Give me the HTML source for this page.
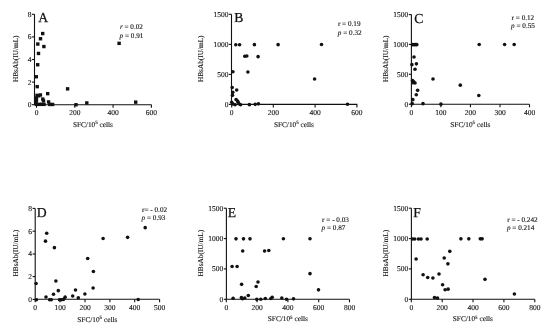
<!DOCTYPE html>
<html><head><meta charset="utf-8"><style>
html,body{margin:0;padding:0;background:#fff;}
svg{display:block;}
text{text-rendering:geometricPrecision;font-family:"Liberation Serif",serif;fill:#111;stroke:#111;stroke-width:0.12px;}
svg{filter:grayscale(1) blur(0.3px);}
.tk{font-size:7.5px;}
.st{font-size:7.2px;}
.ti{font-size:7.3px;}
.let{font-size:13.7px;stroke-width:0.25px;}
.ax{fill:none;stroke:#111;stroke-width:1.1;}
.m{fill:#111;}
</style></head><body>
<svg width="550" height="334" viewBox="0 0 550 334">
<rect x="0" y="0" width="550" height="334" fill="#fff"/>
<g><path d="M34.5 14.3V104.7H151.5" class="ax"/><path d="M31.9 14.3H34.5" class="ax"/><text x="31.4" y="16.78" class="tk" text-anchor="end">8</text><path d="M31.9 36.9H34.5" class="ax"/><text x="31.4" y="39.38" class="tk" text-anchor="end">6</text><path d="M31.9 59.5H34.5" class="ax"/><text x="31.4" y="61.98" class="tk" text-anchor="end">4</text><path d="M31.9 82.1H34.5" class="ax"/><text x="31.4" y="84.57" class="tk" text-anchor="end">2</text><path d="M31.9 104.7H34.5" class="ax"/><text x="31.4" y="107.17" class="tk" text-anchor="end">0</text><path d="M36.5 104.7V107.7" class="ax"/><text x="36.5" y="115.17" class="tk" text-anchor="middle">0</text><path d="M74.8 104.7V107.7" class="ax"/><text x="74.8" y="115.17" class="tk" text-anchor="middle">200</text><path d="M113.1 104.7V107.7" class="ax"/><text x="113.1" y="115.17" class="tk" text-anchor="middle">400</text><path d="M151.4 104.7V107.7" class="ax"/><text x="151.4" y="115.17" class="tk" text-anchor="middle">600</text><text x="38.3" y="22.1" class="let">A</text><text x="119.9" y="29.38" class="st"><tspan font-style="italic">r</tspan> = 0.02</text><text x="119.6" y="38.28" class="st"><tspan font-style="italic">p</tspan> = 0.91</text><text x="92.9" y="126.71" class="ti" text-anchor="middle">SFC/10<tspan dy="-2.4" font-size="5">5</tspan><tspan dy="2.4"> cells</tspan></text><text transform="translate(15.25 58.75) rotate(-90)" x="0" y="2.41" class="ti" text-anchor="middle">HBsAb(IU/mL)</text><rect class="m" x="41" y="31.85" width="3.4" height="3.4"/><rect class="m" x="38.8" y="37.05" width="3.4" height="3.4"/><rect class="m" x="36.1" y="42.35" width="3.4" height="3.4"/><rect class="m" x="42.2" y="44.85" width="3.4" height="3.4"/><rect class="m" x="36.8" y="51.75" width="3.4" height="3.4"/><rect class="m" x="36" y="63.05" width="3.4" height="3.4"/><rect class="m" x="34.6" y="75.05" width="3.4" height="3.4"/><rect class="m" x="35.5" y="84.95" width="3.4" height="3.4"/><rect class="m" x="46" y="91.95" width="3.4" height="3.4"/><rect class="m" x="65.9" y="87.15" width="3.4" height="3.4"/><rect class="m" x="117.4" y="41.65" width="3.4" height="3.4"/><rect class="m" x="35.3" y="93.65" width="3.4" height="3.4"/><rect class="m" x="38.7" y="93.25" width="3.4" height="3.4"/><rect class="m" x="34.6" y="96.45" width="3.4" height="3.4"/><rect class="m" x="41.1" y="97.35" width="3.4" height="3.4"/><rect class="m" x="34.4" y="99.95" width="3.4" height="3.4"/><rect class="m" x="37" y="94.15" width="3.4" height="3.4"/><rect class="m" x="34.8" y="98.15" width="3.4" height="3.4"/><rect class="m" x="41.8" y="99.15" width="3.4" height="3.4"/><rect class="m" x="34.8" y="102.65" width="3.4" height="3.4"/><rect class="m" x="37.3" y="102.65" width="3.4" height="3.4"/><rect class="m" x="39.8" y="102.65" width="3.4" height="3.4"/><rect class="m" x="42.3" y="102.65" width="3.4" height="3.4"/><rect class="m" x="46.9" y="100.25" width="3.4" height="3.4"/><rect class="m" x="48.1" y="102.75" width="3.4" height="3.4"/><rect class="m" x="50.9" y="102.75" width="3.4" height="3.4"/><rect class="m" x="74.3" y="103.05" width="3.4" height="3.4"/><rect class="m" x="85.1" y="101.25" width="3.4" height="3.4"/><rect class="m" x="134" y="100.45" width="3.4" height="3.4"/></g>
<g><path d="M231.5 14.3V104.4H357.3" class="ax"/><path d="M228.9 14.3H231.5" class="ax"/><text x="228.4" y="16.78" class="tk" text-anchor="end">1500</text><path d="M228.9 44.4H231.5" class="ax"/><text x="228.4" y="46.88" class="tk" text-anchor="end">1000</text><path d="M228.9 74.4H231.5" class="ax"/><text x="228.4" y="76.88" class="tk" text-anchor="end">500</text><path d="M228.9 104.4H231.5" class="ax"/><text x="228.4" y="106.88" class="tk" text-anchor="end">0</text><path d="M231.7 104.4V107.4" class="ax"/><text x="231.7" y="114.88" class="tk" text-anchor="middle">0</text><path d="M273.3 104.4V107.4" class="ax"/><text x="273.3" y="114.88" class="tk" text-anchor="middle">200</text><path d="M315.1 104.4V107.4" class="ax"/><text x="315.1" y="114.88" class="tk" text-anchor="middle">400</text><path d="M356.9 104.4V107.4" class="ax"/><text x="356.9" y="114.88" class="tk" text-anchor="middle">600</text><text x="234.2" y="21.7" class="let">B</text><text x="337.9" y="26.38" class="st">r = 0.19</text><text x="337.8" y="34.88" class="st"><tspan font-style="italic">p</tspan> = 0.32</text><text x="293.9" y="126.71" class="ti" text-anchor="middle">SFC/10<tspan dy="-2.4" font-size="5">5</tspan><tspan dy="2.4"> cells</tspan></text><text transform="translate(200.4 58.75) rotate(-90)" x="0" y="2.41" class="ti" text-anchor="middle">HBsAb(IU/mL)</text><circle class="m" cx="235.8" cy="44.75" r="1.8"/><circle class="m" cx="239.6" cy="44.75" r="1.8"/><circle class="m" cx="254.4" cy="44.65" r="1.8"/><circle class="m" cx="278.1" cy="44.65" r="1.8"/><circle class="m" cx="321.5" cy="44.55" r="1.8"/><circle class="m" cx="244.8" cy="56.25" r="1.8"/><circle class="m" cx="246.8" cy="56.05" r="1.8"/><circle class="m" cx="258.1" cy="56.65" r="1.8"/><circle class="m" cx="232.9" cy="71.75" r="1.8"/><circle class="m" cx="247.9" cy="71.95" r="1.8"/><circle class="m" cx="314.6" cy="78.95" r="1.8"/><circle class="m" cx="347.5" cy="104.25" r="1.8"/><circle class="m" cx="232.2" cy="87.45" r="1.8"/><circle class="m" cx="236.7" cy="89.95" r="1.8"/><circle class="m" cx="232.8" cy="92.35" r="1.8"/><circle class="m" cx="232.5" cy="95.35" r="1.8"/><circle class="m" cx="236.1" cy="99.55" r="1.8"/><circle class="m" cx="237.5" cy="100.95" r="1.8"/><circle class="m" cx="238.2" cy="102.35" r="1.8"/><circle class="m" cx="231.7" cy="102.35" r="1.8"/><circle class="m" cx="233" cy="103.95" r="1.8"/><circle class="m" cx="235.1" cy="104.75" r="1.8"/><circle class="m" cx="239.3" cy="103.95" r="1.8"/><circle class="m" cx="240.6" cy="104.75" r="1.8"/><circle class="m" cx="249.4" cy="104.65" r="1.8"/><circle class="m" cx="255.2" cy="104.35" r="1.8"/><circle class="m" cx="258.4" cy="103.85" r="1.8"/></g>
<g><path d="M411.4 14.6V104.3H529.5" class="ax"/><path d="M408.8 14.6H411.4" class="ax"/><text x="408.3" y="17.07" class="tk" text-anchor="end">1500</text><path d="M408.8 44.4H411.4" class="ax"/><text x="408.3" y="46.88" class="tk" text-anchor="end">1000</text><path d="M408.8 74.3H411.4" class="ax"/><text x="408.3" y="76.77" class="tk" text-anchor="end">500</text><path d="M408.8 104.2H411.4" class="ax"/><text x="408.3" y="106.67" class="tk" text-anchor="end">0</text><path d="M411.4 104.3V107.3" class="ax"/><text x="411.4" y="114.77" class="tk" text-anchor="middle">0</text><path d="M440.9 104.3V107.3" class="ax"/><text x="440.9" y="114.77" class="tk" text-anchor="middle">100</text><path d="M470.45 104.3V107.3" class="ax"/><text x="470.45" y="114.77" class="tk" text-anchor="middle">200</text><path d="M500 104.3V107.3" class="ax"/><text x="500" y="114.77" class="tk" text-anchor="middle">300</text><path d="M529.5 104.3V107.3" class="ax"/><text x="529.5" y="114.77" class="tk" text-anchor="middle">400</text><text x="414.2" y="22.6" class="let">C</text><text x="511.6" y="19.98" class="st">r = 0.12</text><text x="511.1" y="28.08" class="st"><tspan font-style="italic">p</tspan> = 0.55</text><text x="470.3" y="126.71" class="ti" text-anchor="middle">SFC/10<tspan dy="-2.4" font-size="5">5</tspan><tspan dy="2.4"> cells</tspan></text><text transform="translate(385.55 58.75) rotate(-90)" x="0" y="2.41" class="ti" text-anchor="middle">HBsAb(IU/mL)</text><circle class="m" cx="412.5" cy="44.65" r="1.8"/><circle class="m" cx="414" cy="44.65" r="1.8"/><circle class="m" cx="415.5" cy="44.65" r="1.8"/><circle class="m" cx="416.8" cy="44.65" r="1.8"/><circle class="m" cx="479.2" cy="44.55" r="1.8"/><circle class="m" cx="504.6" cy="44.55" r="1.8"/><circle class="m" cx="514.2" cy="44.55" r="1.8"/><circle class="m" cx="414" cy="56.95" r="1.8"/><circle class="m" cx="411.9" cy="64.65" r="1.8"/><circle class="m" cx="416.4" cy="63.85" r="1.8"/><circle class="m" cx="415" cy="69.25" r="1.8"/><circle class="m" cx="412.5" cy="80.45" r="1.8"/><circle class="m" cx="413.7" cy="81.85" r="1.8"/><circle class="m" cx="412.8" cy="82.75" r="1.8"/><circle class="m" cx="415" cy="82.95" r="1.8"/><circle class="m" cx="433" cy="78.95" r="1.8"/><circle class="m" cx="460.3" cy="85.15" r="1.8"/><circle class="m" cx="417.6" cy="90.35" r="1.8"/><circle class="m" cx="416.3" cy="94.75" r="1.8"/><circle class="m" cx="412.8" cy="99.65" r="1.8"/><circle class="m" cx="412.2" cy="103.65" r="1.8"/><circle class="m" cx="423" cy="103.65" r="1.8"/><circle class="m" cx="440.9" cy="104.15" r="1.8"/><circle class="m" cx="478.8" cy="95.45" r="1.8"/></g>
<g><path d="M35.2 208.4V299.2H159.6" class="ax"/><path d="M32.6 208.4H35.2" class="ax"/><text x="32.1" y="210.88" class="tk" text-anchor="end">8</text><path d="M32.6 231.2H35.2" class="ax"/><text x="32.1" y="233.67" class="tk" text-anchor="end">6</text><path d="M32.6 254H35.2" class="ax"/><text x="32.1" y="256.48" class="tk" text-anchor="end">4</text><path d="M32.6 276.6H35.2" class="ax"/><text x="32.1" y="279.08" class="tk" text-anchor="end">2</text><path d="M32.6 299.4H35.2" class="ax"/><text x="32.1" y="301.88" class="tk" text-anchor="end">0</text><path d="M35.2 299.2V302.2" class="ax"/><text x="35.2" y="309.68" class="tk" text-anchor="middle">0</text><path d="M60.1 299.2V302.2" class="ax"/><text x="60.1" y="309.68" class="tk" text-anchor="middle">100</text><path d="M85 299.2V302.2" class="ax"/><text x="85" y="309.68" class="tk" text-anchor="middle">200</text><path d="M109.9 299.2V302.2" class="ax"/><text x="109.9" y="309.68" class="tk" text-anchor="middle">300</text><path d="M134.7 299.2V302.2" class="ax"/><text x="134.7" y="309.68" class="tk" text-anchor="middle">400</text><path d="M159.6 299.2V302.2" class="ax"/><text x="159.6" y="309.68" class="tk" text-anchor="middle">500</text><text x="36.8" y="217" class="let">D</text><text x="142.1" y="211.78" class="st">r= - 0.02</text><text x="141.6" y="220.08" class="st"><tspan font-style="italic">p</tspan> = 0.93</text><text x="97.3" y="321.61" class="ti" text-anchor="middle">SFC/10<tspan dy="-2.4" font-size="5">5</tspan><tspan dy="2.4"> cells</tspan></text><text transform="translate(15.25 253.1) rotate(-90)" x="0" y="2.41" class="ti" text-anchor="middle">HBsAb(IU/mL)</text><circle class="m" cx="145.2" cy="227.65" r="1.8"/><circle class="m" cx="127.6" cy="237.35" r="1.8"/><circle class="m" cx="103.1" cy="238.45" r="1.8"/><circle class="m" cx="46.7" cy="233.25" r="1.8"/><circle class="m" cx="45.5" cy="241.15" r="1.8"/><circle class="m" cx="54.4" cy="247.65" r="1.8"/><circle class="m" cx="87.7" cy="258.55" r="1.8"/><circle class="m" cx="93.4" cy="271.45" r="1.8"/><circle class="m" cx="36.1" cy="283.45" r="1.8"/><circle class="m" cx="55.9" cy="280.95" r="1.8"/><circle class="m" cx="58.3" cy="290.65" r="1.8"/><circle class="m" cx="53.5" cy="294.25" r="1.8"/><circle class="m" cx="46" cy="296.95" r="1.8"/><circle class="m" cx="36.4" cy="299.75" r="1.8"/><circle class="m" cx="49.6" cy="299.75" r="1.8"/><circle class="m" cx="51.3" cy="299.75" r="1.8"/><circle class="m" cx="59.5" cy="299.75" r="1.8"/><circle class="m" cx="61.5" cy="299.75" r="1.8"/><circle class="m" cx="63.6" cy="299.35" r="1.8"/><circle class="m" cx="65.1" cy="297.15" r="1.8"/><circle class="m" cx="72.7" cy="295.95" r="1.8"/><circle class="m" cx="75.5" cy="289.95" r="1.8"/><circle class="m" cx="78.3" cy="297.85" r="1.8"/><circle class="m" cx="84.9" cy="293.95" r="1.8"/><circle class="m" cx="93.1" cy="288.05" r="1.8"/><circle class="m" cx="138.2" cy="299.55" r="1.8"/></g>
<g><path d="M226.4 208.2V299.3H349.5" class="ax"/><path d="M223.8 208.2H226.4" class="ax"/><text x="223.3" y="210.67" class="tk" text-anchor="end">1500</text><path d="M223.8 238.6H226.4" class="ax"/><text x="223.3" y="241.07" class="tk" text-anchor="end">1000</text><path d="M223.8 268.9H226.4" class="ax"/><text x="223.3" y="271.38" class="tk" text-anchor="end">500</text><path d="M223.8 299.3H226.4" class="ax"/><text x="223.3" y="301.78" class="tk" text-anchor="end">0</text><path d="M226.3 299.3V302.3" class="ax"/><text x="226.3" y="309.78" class="tk" text-anchor="middle">0</text><path d="M257.1 299.3V302.3" class="ax"/><text x="257.1" y="309.78" class="tk" text-anchor="middle">200</text><path d="M287.9 299.3V302.3" class="ax"/><text x="287.9" y="309.78" class="tk" text-anchor="middle">400</text><path d="M318.7 299.3V302.3" class="ax"/><text x="318.7" y="309.78" class="tk" text-anchor="middle">600</text><path d="M349.5 299.3V302.3" class="ax"/><text x="349.5" y="309.78" class="tk" text-anchor="middle">800</text><text x="227.7" y="216.8" class="let">E</text><text x="322.1" y="222.08" class="st">r = - 0.03</text><text x="321.6" y="230.18" class="st"><tspan font-style="italic">p</tspan> = 0.87</text><text x="287.8" y="321.21" class="ti" text-anchor="middle">SFC/10<tspan dy="-2.4" font-size="5">5</tspan><tspan dy="2.4"> cells</tspan></text><text transform="translate(200.35 253.1) rotate(-90)" x="0" y="2.41" class="ti" text-anchor="middle">HBsAb(IU/mL)</text><circle class="m" cx="236" cy="238.85" r="1.8"/><circle class="m" cx="243.5" cy="238.85" r="1.8"/><circle class="m" cx="250" cy="238.85" r="1.8"/><circle class="m" cx="283.4" cy="238.75" r="1.8"/><circle class="m" cx="310" cy="238.75" r="1.8"/><circle class="m" cx="242.7" cy="251.05" r="1.8"/><circle class="m" cx="264.6" cy="250.95" r="1.8"/><circle class="m" cx="268.8" cy="250.55" r="1.8"/><circle class="m" cx="232.1" cy="266.55" r="1.8"/><circle class="m" cx="237.1" cy="266.55" r="1.8"/><circle class="m" cx="310" cy="273.65" r="1.8"/><circle class="m" cx="241.6" cy="284.35" r="1.8"/><circle class="m" cx="256.2" cy="286.55" r="1.8"/><circle class="m" cx="258" cy="282.05" r="1.8"/><circle class="m" cx="318.5" cy="289.85" r="1.8"/><circle class="m" cx="248.3" cy="295.55" r="1.8"/><circle class="m" cx="233.1" cy="298.25" r="1.8"/><circle class="m" cx="241.4" cy="297.65" r="1.8"/><circle class="m" cx="242.5" cy="298.75" r="1.8"/><circle class="m" cx="244.8" cy="297.95" r="1.8"/><circle class="m" cx="256.8" cy="299.35" r="1.8"/><circle class="m" cx="260.8" cy="299.25" r="1.8"/><circle class="m" cx="265.3" cy="298.55" r="1.8"/><circle class="m" cx="270.9" cy="298.45" r="1.8"/><circle class="m" cx="272.2" cy="297.25" r="1.8"/><circle class="m" cx="281.8" cy="297.95" r="1.8"/><circle class="m" cx="286.5" cy="299.25" r="1.8"/><circle class="m" cx="293.5" cy="298.85" r="1.8"/></g>
<g><path d="M411.4 208.2V299.3H534.8" class="ax"/><path d="M408.8 208.2H411.4" class="ax"/><text x="408.3" y="210.67" class="tk" text-anchor="end">1500</text><path d="M408.8 238.6H411.4" class="ax"/><text x="408.3" y="241.07" class="tk" text-anchor="end">1000</text><path d="M408.8 268.9H411.4" class="ax"/><text x="408.3" y="271.38" class="tk" text-anchor="end">500</text><path d="M408.8 299.3H411.4" class="ax"/><text x="408.3" y="301.78" class="tk" text-anchor="end">0</text><path d="M411.3 299.3V302.3" class="ax"/><text x="411.3" y="309.78" class="tk" text-anchor="middle">0</text><path d="M442.2 299.3V302.3" class="ax"/><text x="442.2" y="309.78" class="tk" text-anchor="middle">200</text><path d="M473 299.3V302.3" class="ax"/><text x="473" y="309.78" class="tk" text-anchor="middle">400</text><path d="M503.9 299.3V302.3" class="ax"/><text x="503.9" y="309.78" class="tk" text-anchor="middle">600</text><path d="M534.8 299.3V302.3" class="ax"/><text x="534.8" y="309.78" class="tk" text-anchor="middle">800</text><text x="413.2" y="216.9" class="let">F</text><text x="507.2" y="221.88" class="st">r = - 0.242</text><text x="506.9" y="230.08" class="st"><tspan font-style="italic">p</tspan> = 0.214</text><text x="472.8" y="321.21" class="ti" text-anchor="middle">SFC/10<tspan dy="-2.4" font-size="5">5</tspan><tspan dy="2.4"> cells</tspan></text><text transform="translate(385.5 253.1) rotate(-90)" x="0" y="2.41" class="ti" text-anchor="middle">HBsAb(IU/mL)</text><circle class="m" cx="412.6" cy="238.95" r="1.8"/><circle class="m" cx="414.7" cy="238.95" r="1.8"/><circle class="m" cx="418.4" cy="238.95" r="1.8"/><circle class="m" cx="421" cy="238.95" r="1.8"/><circle class="m" cx="427.2" cy="238.95" r="1.8"/><circle class="m" cx="460.9" cy="238.85" r="1.8"/><circle class="m" cx="468.8" cy="238.85" r="1.8"/><circle class="m" cx="480.3" cy="238.85" r="1.8"/><circle class="m" cx="482.1" cy="238.85" r="1.8"/><circle class="m" cx="416.1" cy="258.95" r="1.8"/><circle class="m" cx="449.8" cy="251.35" r="1.8"/><circle class="m" cx="444.2" cy="257.95" r="1.8"/><circle class="m" cx="447.9" cy="263.85" r="1.8"/><circle class="m" cx="439" cy="274.05" r="1.8"/><circle class="m" cx="423.1" cy="274.75" r="1.8"/><circle class="m" cx="427.7" cy="277.55" r="1.8"/><circle class="m" cx="432.9" cy="277.95" r="1.8"/><circle class="m" cx="485" cy="279.35" r="1.8"/><circle class="m" cx="442.6" cy="284.75" r="1.8"/><circle class="m" cx="445.1" cy="289.75" r="1.8"/><circle class="m" cx="448.1" cy="289.15" r="1.8"/><circle class="m" cx="514.4" cy="293.95" r="1.8"/><circle class="m" cx="434.5" cy="297.55" r="1.8"/><circle class="m" cx="437.5" cy="297.95" r="1.8"/></g>
</svg>
</body></html>
